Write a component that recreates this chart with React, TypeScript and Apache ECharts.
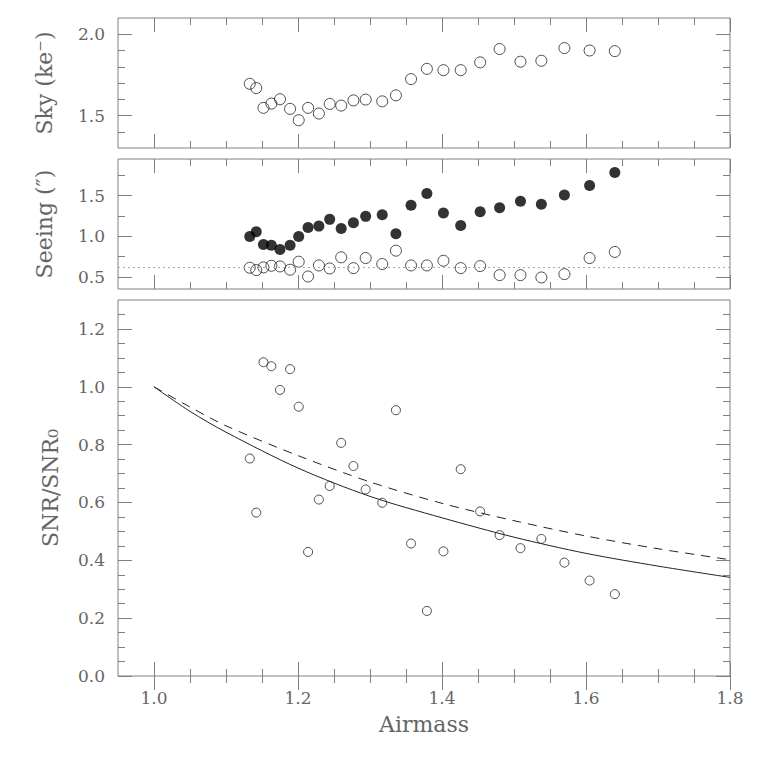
import React, { useEffect, useRef } from "react";
import * as echarts from "echarts";

// ---- data ----
const AIRMASS = [1.133, 1.142, 1.152, 1.163, 1.175, 1.189, 1.201, 1.214, 1.229, 1.244, 1.26, 1.277, 1.294, 1.317, 1.336, 1.357, 1.379, 1.402, 1.426, 1.453, 1.48, 1.509, 1.538, 1.57, 1.605, 1.64];
const SKY = [1.695, 1.669, 1.547, 1.573, 1.6, 1.541, 1.471, 1.547, 1.512, 1.571, 1.561, 1.593, 1.598, 1.587, 1.624, 1.724, 1.787, 1.779, 1.779, 1.827, 1.909, 1.831, 1.837, 1.915, 1.9, 1.896];
const SEEING_FILLED = [0.996, 1.055, 0.897, 0.888, 0.835, 0.888, 0.996, 1.107, 1.124, 1.207, 1.095, 1.165, 1.244, 1.264, 1.029, 1.38, 1.525, 1.285, 1.132, 1.302, 1.351, 1.43, 1.393, 1.508, 1.624, 1.785];
const SEEING_OPEN = [0.612, 0.583, 0.616, 0.636, 0.628, 0.587, 0.686, 0.504, 0.64, 0.603, 0.74, 0.607, 0.731, 0.657, 0.822, 0.64, 0.64, 0.698, 0.607, 0.632, 0.521, 0.521, 0.492, 0.533, 0.731, 0.806];
const SEEING_REF = 0.62;
const SNR = [0.752, 0.565, 1.085, 1.071, 0.989, 1.061, 0.931, 0.429, 0.61, 0.657, 0.806, 0.726, 0.645, 0.599, 0.919, 0.458, 0.225, 0.431, 0.715, 0.569, 0.487, 0.442, 0.474, 0.392, 0.33, 0.283];
const CURVE_X = [1.0, 1.05, 1.1, 1.2, 1.3, 1.4, 1.5, 1.6, 1.7, 1.8];
const CURVE_SOLID = [1.0, 0.915, 0.843, 0.719, 0.621, 0.547, 0.48, 0.424, 0.38, 0.341];
const CURVE_DASHED = [1.0, 0.93, 0.865, 0.762, 0.671, 0.597, 0.537, 0.484, 0.44, 0.402];

// ---- axis ranges and ticks ----
const X_RANGE = [0.95, 1.8];
const X_MAJOR = [1.0, 1.2, 1.4, 1.6, 1.8];
const X_MINOR = [1.05, 1.1, 1.15, 1.25, 1.3, 1.35, 1.45, 1.5, 1.55, 1.65, 1.7, 1.75];
const SKY_RANGE = [1.3, 2.1];
const SKY_MAJOR = [1.5, 2.0];
const SKY_MINOR = [1.4, 1.6, 1.7, 1.8, 1.9];
const SEEING_RANGE = [0.35, 1.95];
const SEEING_MAJOR = [0.5, 1.0, 1.5];
const SEEING_MINOR = [0.75, 1.25, 1.75];
const SNR_RANGE = [0, 1.3];
const SNR_MAJOR = [0, 0.2, 0.4, 0.6, 0.8, 1.0, 1.2];
const SNR_MINOR = [0.05, 0.1, 0.15, 0.25, 0.3, 0.35, 0.45, 0.5, 0.55, 0.65, 0.7, 0.75, 0.85, 0.9, 0.95, 1.05, 1.1, 1.15, 1.25];

const SKY_NAME = "Sky (ke\u207B)";
const SEEING_NAME = "Seeing (\u2033)";
const SNR_NAME = "SNR/SNR\u2080";
const X_NAME = "Airmass";

const FONT = "'DejaVu Serif', serif";
const TEXT = "#666666";
const FRAME = "#808080";
const INK = "#222222";

function pairs(xs: number[], ys: number[]) {
  return xs.map((x, i) => [x, ys[i]]);
}

function makeAxes(
  dim: "x" | "y",
  gridIndex: number,
  range: number[],
  major: number[],
  minor: number[],
  labelled: boolean,
  name?: string,
  nameGap?: number
) {
  const sideA = dim === "x" ? "bottom" : "left";
  const sideB = dim === "x" ? "top" : "right";
  const base = (pos: string, ticks: number[], len: number, showLabel: boolean, withName: boolean) => ({
    type: "value",
    gridIndex,
    min: range[0],
    max: range[1],
    position: pos,
    axisLine: { show: false },
    splitLine: { show: false },
    axisTick: {
      show: true,
      inside: true,
      length: len,
      customValues: ticks,
      lineStyle: { color: FRAME, width: 1 },
    },
    axisLabel: showLabel
      ? {
          show: true,
          customValues: major,
          formatter: (v: number) => v.toFixed(1),
          color: TEXT,
          fontFamily: FONT,
          fontSize: 17,
          margin: 13,
        }
      : { show: false },
    name: withName ? name : undefined,
    nameLocation: "middle",
    nameGap: nameGap,
    nameRotate: dim === "y" ? 90 : 0,
    nameTextStyle: { color: TEXT, fontFamily: FONT, fontSize: 22 },
  });
  return [
    base(sideA, major, 14, labelled, !!name),
    base(sideB, major, 14, false, false),
    base(sideA, minor, 7, false, false),
    base(sideB, minor, 7, false, false),
  ];
}

const openCircle = (size: number) => ({
  type: "scatter",
  symbol: "circle",
  symbolSize: size,
  itemStyle: { color: "rgba(0,0,0,0)", borderColor: INK, borderWidth: 1 },
});

export default function App() {
  const ref = useRef<HTMLDivElement>(null);
  useEffect(() => {
    if (!ref.current) return;
    const chart = echarts.init(ref.current, null, { renderer: "svg" });
    const gridBase = { left: 118, width: 612, show: true, borderColor: FRAME, borderWidth: 1, backgroundColor: "transparent" };
    const xAxis = [
      ...makeAxes("x", 0, X_RANGE, X_MAJOR, X_MINOR, false),
      ...makeAxes("x", 1, X_RANGE, X_MAJOR, X_MINOR, false),
      ...makeAxes("x", 2, X_RANGE, X_MAJOR, X_MINOR, true, X_NAME, 37),
    ];
    const yAxis = [
      ...makeAxes("y", 0, SKY_RANGE, SKY_MAJOR, SKY_MINOR, true, SKY_NAME, 63),
      ...makeAxes("y", 1, SEEING_RANGE, SEEING_MAJOR, SEEING_MINOR, true, SEEING_NAME, 63),
      ...makeAxes("y", 2, SNR_RANGE, SNR_MAJOR, SNR_MINOR, true, SNR_NAME, 57),
    ];
    chart.setOption({
      animation: false,
      grid: [
        { ...gridBase, top: 18, height: 130 },
        { ...gridBase, top: 159, height: 130 },
        { ...gridBase, top: 300, height: 376 },
      ],
      xAxis,
      yAxis,
      series: [
        { ...openCircle(11), name: "sky", xAxisIndex: 0, yAxisIndex: 0, data: pairs(AIRMASS, SKY) },
        {
          type: "scatter",
          name: "seeing",
          symbol: "circle",
          symbolSize: 11,
          itemStyle: { color: "#000" },
          xAxisIndex: 4,
          yAxisIndex: 4,
          data: pairs(AIRMASS, SEEING_FILLED),
        },
        {
          ...openCircle(11),
          name: "seeing2",
          xAxisIndex: 4,
          yAxisIndex: 4,
          data: pairs(AIRMASS, SEEING_OPEN),
          markLine: {
            silent: true,
            symbol: "none",
            label: { show: false },
            lineStyle: { type: [2, 3], color: "#aaa", width: 1 },
            data: [{ yAxis: SEEING_REF }],
          },
        },
        { ...openCircle(9), name: "snr", xAxisIndex: 8, yAxisIndex: 8, data: pairs(AIRMASS, SNR) },
        {
          type: "line",
          name: "solid",
          xAxisIndex: 8,
          yAxisIndex: 8,
          smooth: 0.3,
          showSymbol: false,
          lineStyle: { color: INK, width: 1 },
          data: pairs(CURVE_X, CURVE_SOLID),
        },
        {
          type: "line",
          name: "dashed",
          xAxisIndex: 8,
          yAxisIndex: 8,
          smooth: 0.3,
          showSymbol: false,
          lineStyle: { color: INK, width: 1, type: [9, 7] },
          data: pairs(CURVE_X, CURVE_DASHED),
        },
      ],
    });
    return () => chart.dispose();
  }, []);
  return <div ref={ref} style={{ position: "absolute", left: 0, top: 0, width: 771, height: 771, background: "#fff" }} />;
}
